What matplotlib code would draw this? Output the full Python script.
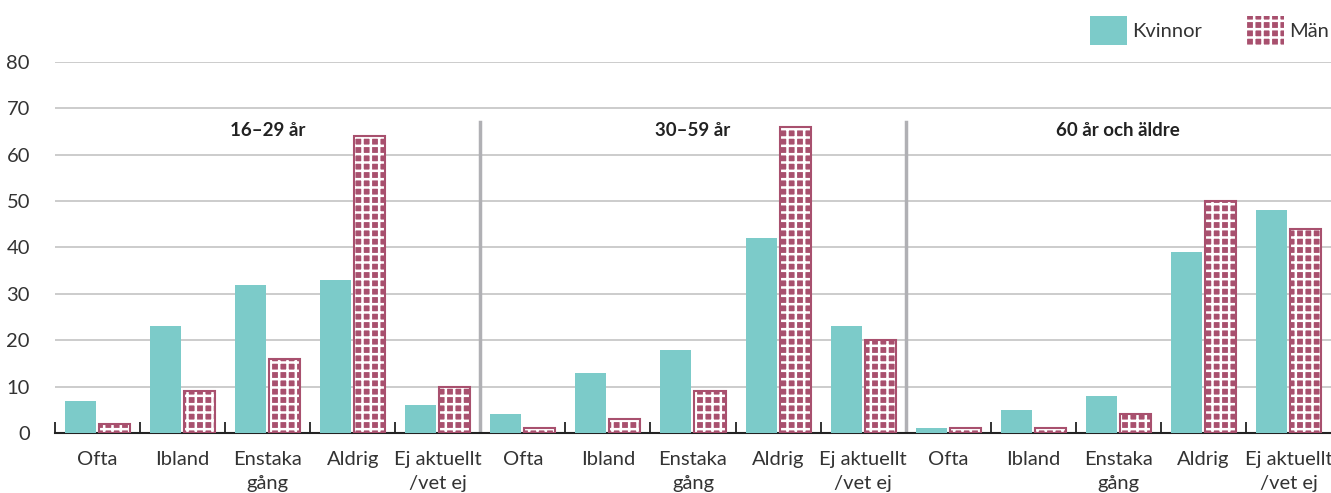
import matplotlib.pyplot as plt
from matplotlib.patches import Patch
import numpy as np

plt.rcParams['font.family'] = ['Lato', 'DejaVu Sans']
plt.rcParams['hatch.linewidth'] = 1.8

groups = ['16–29 år', '30–59 år', '60 år och äldre']
answers = ['Ofta', 'Ibland', 'Enstaka\ngång', 'Aldrig', 'Ej aktuellt\n/vet ej']

kvinnor = [7, 23, 32, 33, 6,
           4, 13, 18, 42, 23,
           1, 5, 8, 39, 48]
man = [2, 9, 16, 64, 10,
       1, 3, 9, 66, 20,
       1, 1, 4, 50, 44]

teal = '#7ccbc9'
pink = '#a8506e'
txt = '#333333'

fig = plt.figure(figsize=(13.31, 4.93), dpi=100)
ax = fig.add_axes([0.0413, 0.1217, 0.9587, 0.7526])

x = np.arange(len(kvinnor))
w = 0.365
off = 0.2
ax.bar(x - off, kvinnor, w, color=teal, zorder=3)
ax.bar(x + off, man, w, color=pink, edgecolor='white', hatch='++', linewidth=0, zorder=3)
ax.bar(x + off, man, w, fill=False, edgecolor=pink, linewidth=1.5, zorder=4)

ax.set_xlim(-0.5, len(x) - 0.5)
ax.set_ylim(0, 80)
ax.set_yticks(range(0, 81, 10))
ax.yaxis.grid(True, color='#c4c4c4', linewidth=1.2, zorder=0)
ax.tick_params(axis='y', length=0, labelsize=14.5, labelcolor=txt, pad=18)

ax.set_xticks(x)
ax.set_xticklabels(answers * 3, fontsize=14.5, color=txt, linespacing=1.5)
ax.tick_params(axis='x', length=0, pad=13)
bounds = [b - 0.5 for b in range(len(x)) if b % 5 != 0]
bounds = [-0.5] + bounds
ax.set_xticks(bounds, minor=True)
ax.tick_params(axis='x', which='minor', direction='in', length=8, width=1.3, color='#222222')

for s in ['top', 'right', 'left']:
    ax.spines[s].set_visible(False)
ax.spines['bottom'].set_color('#222222')
ax.spines['bottom'].set_linewidth(1.5)

for i, g in enumerate(groups):
    ax.text(i * 5 + 2, 65.3, g, ha='center', va='center', fontsize=13.5,
            fontweight='bold', color='#222222')
    if i > 0:
        ax.plot([i * 5 - 0.5, i * 5 - 0.5], [0, 67], color='#b0b0b4', linewidth=2.5, zorder=2)

handles = [Patch(facecolor=teal, label='Kvinnor'),
           Patch(facecolor=pink, edgecolor='white', hatch='++', linewidth=0, label='Män')]
leg = fig.legend(handles=handles, loc='upper right', bbox_to_anchor=(1.012, 1.005), ncol=2,
                 frameon=False, fontsize=14.5, handlelength=1.85, handleheight=1.85,
                 columnspacing=2.2, handletextpad=0.25)
for t in leg.get_texts():
    t.set_color(txt)

fig.savefig('out.png', dpi=100)
